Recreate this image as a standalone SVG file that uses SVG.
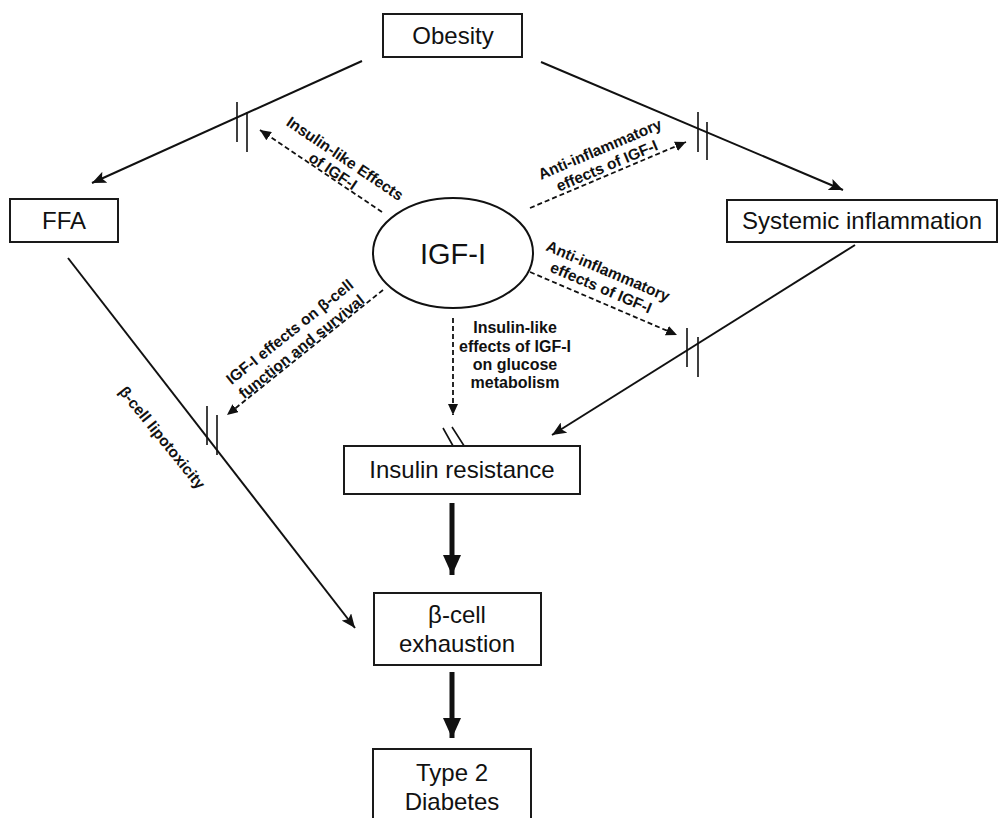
<svg xmlns="http://www.w3.org/2000/svg" width="1001" height="818" viewBox="0 0 1001 818">
<style>
.box{fill:#fff;stroke:#1a1a1a;stroke-width:2}
.lbl{font-family:"Liberation Sans",Arial,sans-serif;font-size:24px;fill:#111;text-anchor:middle}
.sm{font-family:"Liberation Sans",Arial,sans-serif;font-size:15.5px;font-weight:bold;fill:#111;text-anchor:middle}
.ln{stroke:#111;stroke-width:2;fill:none}
.dash{stroke:#111;stroke-width:1.8;fill:none;stroke-dasharray:5 3}
.thick{stroke:#111;stroke-width:5;fill:none}
.hatch{stroke:#111;stroke-width:1.6;fill:none}
</style>
<defs>
<marker id="ah" markerUnits="userSpaceOnUse" markerWidth="16" markerHeight="12" refX="14" refY="6" orient="auto"><path d="M0,0 L14,6 L0,12 L3,6 z" fill="#111"/></marker>
<marker id="ahd" markerUnits="userSpaceOnUse" markerWidth="12" markerHeight="10" refX="11" refY="5" orient="auto"><path d="M0,0 L11,5 L0,10 z" fill="#111"/></marker>
<marker id="aht" markerUnits="userSpaceOnUse" markerWidth="20" markerHeight="20" refX="20" refY="9" orient="auto"><path d="M0,0 L20,9 L0,18 z" fill="#111"/></marker>
</defs>
<rect width="1001" height="818" fill="#fff"/>
<g id="connectors">
<line class="ln" x1="362" y1="61" x2="92" y2="183" marker-end="url(#ah)"/>
<line class="ln" x1="541" y1="62" x2="843" y2="190" marker-end="url(#ah)"/>
<line class="ln" x1="855" y1="245" x2="552" y2="435" marker-end="url(#ah)"/>
<line class="ln" x1="68" y1="258" x2="355" y2="628" marker-end="url(#ah)"/>
<line class="thick" x1="452" y1="503" x2="452" y2="575" marker-end="url(#aht)"/>
<line class="thick" x1="452" y1="672" x2="452" y2="738" marker-end="url(#aht)"/>
<line class="dash" x1="382" y1="212" x2="260" y2="130" marker-end="url(#ahd)"/>
<line class="dash" x1="530" y1="208" x2="686" y2="142" marker-end="url(#ahd)"/>
<line class="dash" x1="530" y1="272" x2="677" y2="335" marker-end="url(#ahd)"/>
<line class="dash" x1="383" y1="290" x2="227" y2="415" marker-end="url(#ahd)"/>
<line class="dash" x1="453" y1="318" x2="453" y2="415" marker-end="url(#ahd)"/>
<path class="hatch" d="M237,102V142M247,112V152M698,112V152M707,122V160M687,328V367M698,337V377M207,406V445M217,415V455M443,428L457,453M452,427L468,452"/>
<text class="sm" transform="translate(342,163) rotate(34)"><tspan x="0" y="0">Insulin-like Effects</tspan><tspan x="-3" y="17">of IGF-I</tspan></text>
<text class="sm" transform="translate(602,154) rotate(-23)"><tspan x="0" y="0">Anti-inflammatory</tspan><tspan x="0" y="18">effects of IGF-I</tspan></text>
<text class="sm" transform="translate(606,276) rotate(23)"><tspan x="0" y="0">Anti-inflammatory</tspan><tspan x="0" y="18">effects of IGF-I</tspan></text>
<text class="sm" transform="translate(293,336) rotate(-38.7)"><tspan x="0" y="0">IGF-I effects on β-cell</tspan><tspan x="0" y="19">function and survival</tspan></text>
<text class="sm" transform="translate(158,441) rotate(51)">β-cell lipotoxicity</text>
<text class="sm" style="font-size:16px"><tspan x="515" y="333">Insulin-like</tspan><tspan x="515" y="352">effects of IGF-I</tspan><tspan x="515" y="370">on glucose</tspan><tspan x="515" y="388">metabolism</tspan></text>
</g>
<g id="obesity"><rect class="box" x="383" y="14" width="139" height="43"/><text class="lbl" x="453" y="44">Obesity</text></g>
<g id="ffa"><rect class="box" x="10" y="199" width="108" height="43"/><text class="lbl" x="64" y="229">FFA</text></g>
<g id="systemic"><rect class="box" x="727" y="200" width="270" height="42"/><text class="lbl" x="862" y="229">Systemic inflammation</text></g>
<g id="igf"><ellipse cx="453" cy="253" rx="80" ry="55" fill="#fff" stroke="#111" stroke-width="2"/><text class="lbl" x="453" y="264" style="font-size:29px">IGF-I</text></g>
<g id="insulin-resistance"><rect class="box" x="344" y="446" width="236" height="48"/><text class="lbl" x="462" y="478">Insulin resistance</text></g>
<g id="beta-cell"><rect class="box" x="374" y="593" width="167" height="72"/><text class="lbl" x="457" y="623">β-cell</text><text class="lbl" x="457" y="652">exhaustion</text></g>
<g id="t2d"><rect class="box" x="373" y="749" width="158" height="90"/><text class="lbl" x="452" y="781">Type 2</text><text class="lbl" x="452" y="810">Diabetes</text></g>
</svg>
